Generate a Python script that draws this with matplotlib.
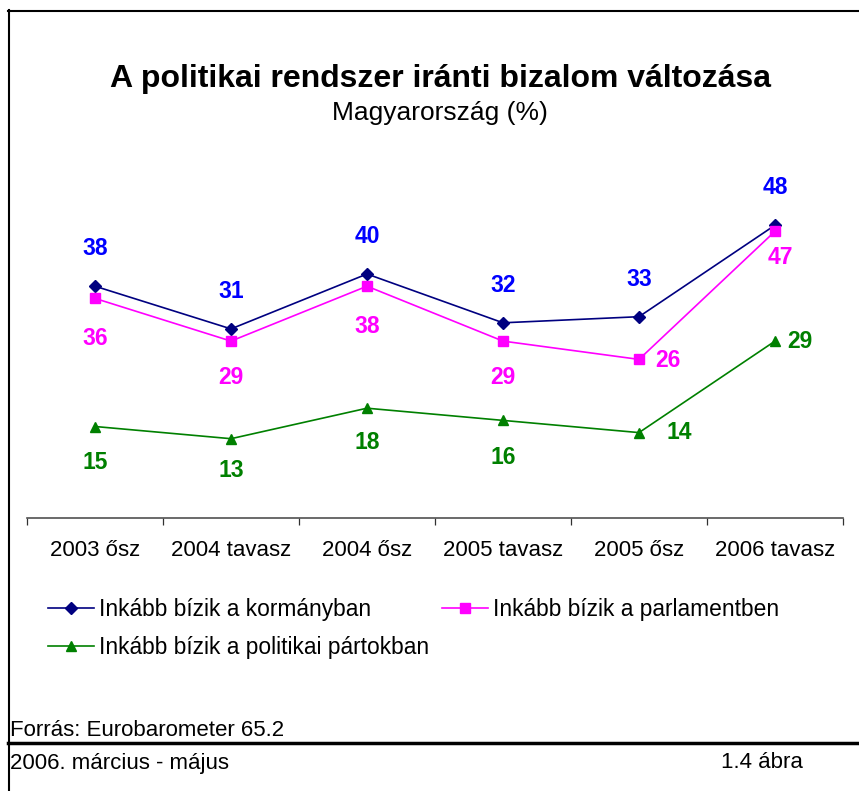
import matplotlib
matplotlib.use("Agg")
import matplotlib.pyplot as plt
from matplotlib.lines import Line2D

plt.rcParams['font.family'] = ['Liberation Sans', 'DejaVu Sans']

categories = ["2003 ősz", "2004 tavasz", "2004 ősz", "2005 tavasz", "2005 ősz", "2006 tavasz"]
kormany = [38, 31, 40, 32, 33, 48]
parlament = [36, 29, 38, 29, 26, 47]
partok = [15, 13, 18, 16, 14, 29]
series_names = ["Inkább bízik a kormányban", "Inkább bízik a parlamentben",
                "Inkább bízik a politikai pártokban"]

W, H = 859, 791
fig = plt.figure(figsize=(W / 100, H / 100), dpi=100)

def fx(px):
    return px / W

def fy(py):
    return 1 - py / H

# axes: x from 27 to 843 px, y=0 at 518px, 60 at 152px
ax = fig.add_axes([fx(27), fy(518), fx(843) - fx(27), fy(152) - fy(518)])
x = list(range(len(categories)))
ax.plot(x, kormany, color='#000080', marker='D', markersize=6, lw=1.2, zorder=3)
ax.plot(x, parlament, color='#FF00FF', marker='s', markersize=6.5, lw=1.2, zorder=3)
ax.plot(x, partok, color='#008000', marker='^', markersize=7.5, lw=1.2, zorder=3)
ax.set_xlim(-0.5, len(categories) - 0.5)
ax.set_ylim(0, 60)
for s in ['top', 'right', 'left']:
    ax.spines[s].set_visible(False)
ax.spines['bottom'].set_color('#505050')
ax.spines['bottom'].set_linewidth(1.2)
ax.set_yticks([])
ax.set_xticks([i - 0.5 for i in range(len(categories) + 1)], minor=False)
ax.set_xticklabels([])
ax.tick_params(axis='x', direction='out', length=5, color='#303030', width=0.9)
for i, c in enumerate(categories):
    ax.annotate(c, (i, 0), xytext=(0, -23.5), textcoords='offset points',
                ha='center', va='center', fontsize=16, clip_on=False)

lab_kw = dict(fontsize=16.5, fontweight='bold', ha='center', va='center', clip_on=False)
# kormany labels above
for i, v in enumerate(kormany):
    ax.annotate(str(v), (i, v), xytext=(0, 27), textcoords='offset points', color='#0000FF', **lab_kw)
# parlament labels below (last two to the side)
par_off = [(0, -29), (0, -26), (0, -29), (0, -26), (21, -1), (4, -19)]
for i, v in enumerate(parlament):
    ax.annotate(str(v), (i, v), xytext=par_off[i], textcoords='offset points', color='#FF00FF', **lab_kw)
grn_off = [(0, -26), (0, -23), (0, -25), (0, -27), (29, 0), (18, 0)]
for i, v in enumerate(partok):
    ax.annotate(str(v), (i, v), xytext=grn_off[i], textcoords='offset points', color='#008000', **lab_kw)

# titles
fig.text(fx(440), fy(79), "A politikai rendszer iránti bizalom változása", ha='center', va='center',
         fontsize=23, fontweight='bold')
fig.text(fx(440), fy(113), "Magyarország (%)", ha='center', va='center', fontsize=19)

# legend (manual placement)
handles = [Line2D([], [], color='#000080', marker='D', markersize=6, lw=1.2),
           Line2D([], [], color='#FF00FF', marker='s', markersize=6.5, lw=1.2),
           Line2D([], [], color='#008000', marker='^', markersize=7.5, lw=1.2)]
leg_kw = dict(loc='upper left', frameon=False, fontsize=16.4, handlelength=2.0,
              handletextpad=0.25, labelspacing=0.64, borderaxespad=0, borderpad=0)
fig.legend([handles[0], handles[2]], [series_names[0], series_names[2]],
           bbox_to_anchor=(fx(48), fy(598)), **leg_kw)
fig.legend([handles[1]], [series_names[1]], bbox_to_anchor=(fx(442), fy(598)), **leg_kw)

# footer texts
fig.text(fx(10), fy(730), "Forrás: Eurobarometer 65.2", ha='left', va='center', fontsize=16)
fig.text(fx(10), fy(763), "2006. március - május", ha='left', va='center', fontsize=16)
fig.text(fx(803), fy(763), "1.4 ábra", ha='right', va='center', fontsize=16)

# frame lines
fig.add_artist(Line2D([fx(9), fx(9)], [fy(10), fy(791)], color='black', lw=1.5, transform=fig.transFigure))
fig.add_artist(Line2D([fx(8), fx(859)], [fy(11), fy(11)], color='black', lw=1.5, transform=fig.transFigure))
fig.add_artist(Line2D([fx(8), fx(859)], [fy(743), fy(743)], color='black', lw=2.5, transform=fig.transFigure))

fig.savefig("out.png", dpi=100)
